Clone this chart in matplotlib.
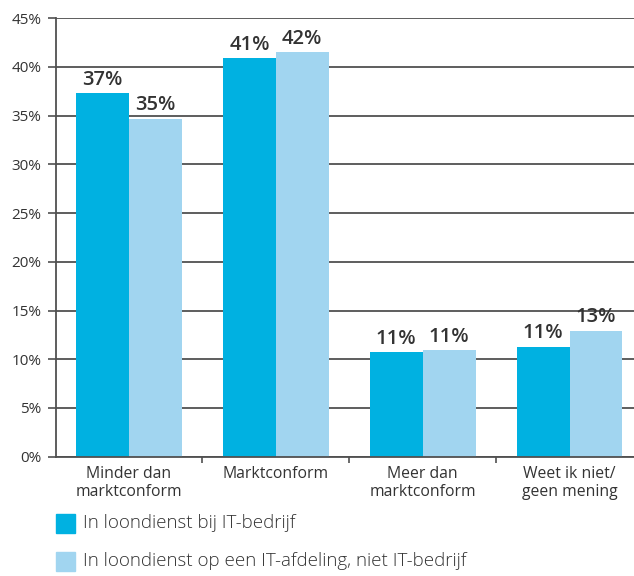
import matplotlib
matplotlib.use("Agg")
import matplotlib.pyplot as plt
from matplotlib.patches import Rectangle
import numpy as np

plt.rcParams['font.family'] = ['Open Sans', 'DejaVu Sans']

categories = ["Minder dan\nmarktconform", "Marktconform", "Meer dan\nmarktconform", "Weet ik niet/\ngeen mening"]
series_names = ["In loondienst bij IT-bedrijf", "In loondienst op een IT-afdeling, niet IT-bedrijf"]
series_a = [37.3, 40.9, 10.7, 11.3]
series_b = [34.7, 41.5, 10.9, 12.9]
labels_a = ["37%", "41%", "11%", "11%"]
labels_b = ["35%", "42%", "11%", "13%"]
yticks = [0, 5, 10, 15, 20, 25, 30, 35, 40, 45]

c_dark = "#00B1E1"
c_light = "#A1D5F0"
txt = "#333333"
grid_c = "#505050"

fig = plt.figure(figsize=(6.34, 5.76), dpi=100)
ax = fig.add_axes([55.5/634, 119.4/576, (643-55.5)/634, 438.3/576])

x = np.arange(len(categories))
w = 0.36
ax.bar(x - w/2, series_a, width=w, color=c_dark, zorder=3)
ax.bar(x + w/2, series_b, width=w, color=c_light, zorder=3)

for xi, v, l in zip(x - w/2, series_a, labels_a):
    ax.annotate(l, (xi, v), xytext=(0, 2.5), textcoords="offset points", ha="center", va="bottom",
                fontsize=14.5, fontweight="semibold", color=txt)
for xi, v, l in zip(x + w/2, series_b, labels_b):
    ax.annotate(l, (xi, v), xytext=(0, 2.5), textcoords="offset points", ha="center", va="bottom",
                fontsize=14.5, fontweight="semibold", color=txt)

ax.set_xlim(-0.5, 3.5)
ax.set_ylim(0, 45)
ax.set_yticks(yticks)
ax.set_yticklabels([f"{t}%" for t in yticks], fontsize=11, color=txt)
for t in yticks:
    ax.axhline(t, color=grid_c, lw=1.3, zorder=1)

ax.set_xticks(x)
ax.set_xticklabels(categories, fontsize=11.3, color=txt, linespacing=1.1)
ax.set_xticks([0.5, 1.5, 2.5], minor=True)
ax.tick_params(axis="x", which="major", length=0, pad=7)
ax.tick_params(axis="x", which="minor", length=4, width=1.2, color=grid_c)
ax.tick_params(axis="y", length=6, width=1.2, color=grid_c, pad=4)

for s in ["top", "right"]:
    ax.spines[s].set_visible(False)
for s in ["left", "bottom"]:
    ax.spines[s].set_color(grid_c)
    ax.spines[s].set_linewidth(1.3)
    ax.spines[s].set_zorder(4)

# legend
for i, (name, col) in enumerate(zip(series_names, [c_dark, c_light])):
    top = 514 + i * 38
    fig.add_artist(Rectangle((56/634, 1 - (top + 19)/576), 19/634, 19/576,
                             transform=fig.transFigure, color=col))
    fig.text(83/634, 1 - (top + 9.5)/576, name, fontsize=13.5, color=txt,
             va="center", ha="left", fontweight="light")

fig.savefig("out.png", dpi=100)
